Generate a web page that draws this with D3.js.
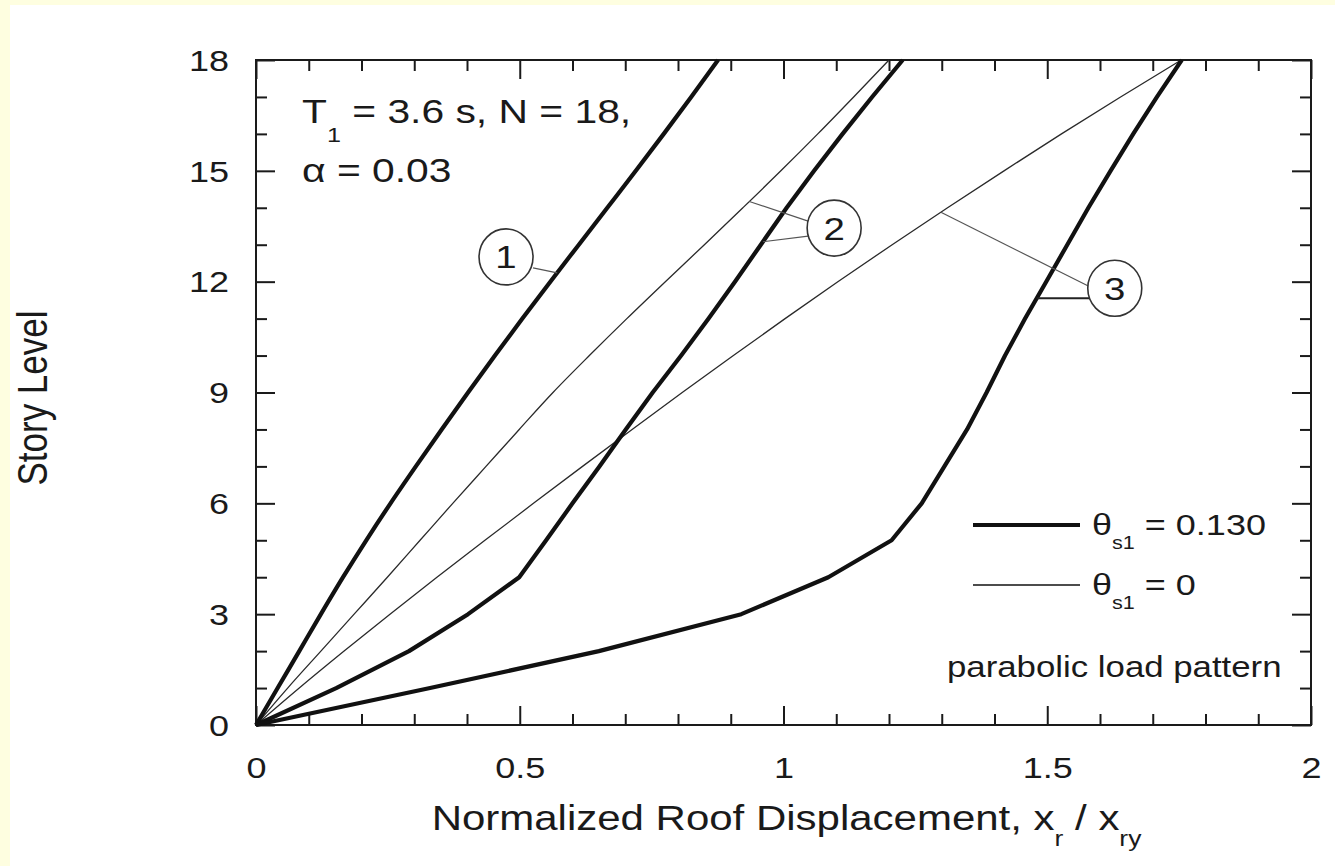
<!DOCTYPE html>
<html>
<head>
<meta charset="utf-8">
<script src="https://cdn.jsdelivr.net/npm/d3@7"></script>
<style>
  html, body { margin: 0; padding: 0; background: #fefee0; }
  svg { display: block; }
  text { font-family: "Liberation Sans", Arial, Helvetica, sans-serif; fill: #1a1a1a; }
</style>
</head>
<body>
<div id="chart"></div>
<script>
/**
 * CONSTANTS AND GLOBALS
 * */
const width = 1335,
  height = 866,
  margin = { top: 60, right: 24, bottom: 141, left: 256 };

// the original figure is stretched sideways, so text gets the same squeeze
const stretch = 1.2;

/**
 * DATA
 * */
const storyLevels = d3.range(0, 19);

// label 1, theta_s1 = 0.130
const curve1Thick = [0, 0.041, 0.082, 0.123, 0.165, 0.209, 0.255, 0.303, 0.352, 0.402,
  0.453, 0.505, 0.558, 0.612, 0.666, 0.720, 0.773, 0.825, 0.876];
// label 2
const curve2Thin = [0, 0.060, 0.123, 0.186, 0.249, 0.311, 0.373, 0.436, 0.499, 0.563,
  0.632, 0.703, 0.776, 0.850, 0.923, 0.995, 1.065, 1.133, 1.200];
const curve2Thick = [0, 0.152, 0.290, 0.402, 0.499, 0.550, 0.600, 0.651, 0.701, 0.752,
  0.806, 0.858, 0.908, 0.957, 1.006, 1.058, 1.112, 1.168, 1.226];
// label 3
const curve3Thin = [0, 0.082, 0.167, 0.254, 0.343, 0.434, 0.526, 0.619, 0.713, 0.808,
  0.905, 1.003, 1.103, 1.206, 1.311, 1.418, 1.527, 1.639, 1.754];
const curve3Thick = [0, 0.330, 0.650, 0.920, 1.085, 1.205, 1.262, 1.305, 1.348, 1.385,
  1.420, 1.458, 1.498, 1.538, 1.578, 1.620, 1.663, 1.708, 1.755];

const xMajorTicks = [0, 0.5, 1, 1.5, 2];
const xTickLabels = ["0", "0.5", "1", "1.5", "2"];
const yMajorTicks = [0, 3, 6, 9, 12, 15, 18];

// circled labels: number, centre (x, level), and where each leader touches its curve
const labelNames = ["1", "2", "3"];
const labelCentres = [[0.474, 12.67], [1.096, 13.45], [1.628, 11.82]];
const labelLeaders = [
  [{ curve: curve1Thick, level: 12.24 }],
  [{ curve: curve2Thin, level: 14.17 }, { curve: curve2Thick, level: 13.08 }],
  [{ curve: curve3Thin, level: 13.88 }, { curve: curve3Thick, level: 11.55, flat: true }]
];

/**
 * INIT
 * */
const svg = d3.select("#chart")
  .append("svg")
  .attr("width", width)
  .attr("height", height);

// pale yellow page, white sheet
svg.append("rect").attr("width", width).attr("height", height).attr("fill", "#fefee0");
svg.append("rect").attr("x", 10).attr("y", 5)
  .attr("width", width - 10).attr("height", height - 5).attr("fill", "#ffffff");

const xScale = d3.scaleLinear().domain([0, 2]).range([margin.left, width - margin.right]);
const yScale = d3.scaleLinear().domain([0, 18]).range([height - margin.bottom, margin.top]);

const plotW = xScale.range()[1] - xScale.range()[0];
const plotH = yScale.range()[0] - yScale.range()[1];

const xMinor = d3.range(0, 21).map(d => d / 10).filter(d => !xMajorTicks.includes(d));
const yMinor = storyLevels.filter(d => !yMajorTicks.includes(d));

// ---- axes (ticks point inwards on all four sides)
function tickAxis(axisFn, scale, values, size, translate) {
  const g = svg.append("g")
    .attr("transform", translate)
    .call(axisFn(scale).tickValues(values).tickSize(-size).tickFormat(""));
  g.select(".domain").remove();
  g.selectAll(".tick line").attr("stroke", "#1a1a1a").attr("stroke-width", 2);
  return g;
}

const bottomY = yScale(0), leftX = xScale(0);
tickAxis(d3.axisBottom, xScale, xMinor, 11, `translate(0,${bottomY})`);
tickAxis(d3.axisTop, xScale, xMinor, 11, `translate(0,${yScale(18)})`);
tickAxis(d3.axisTop, xScale, xMajorTicks, 19, `translate(0,${yScale(18)})`);
tickAxis(d3.axisLeft, yScale, yMinor, 11, `translate(${leftX},0)`);
tickAxis(d3.axisRight, yScale, yMinor, 11, `translate(${xScale(2)},0)`);
tickAxis(d3.axisRight, yScale, yMajorTicks, 19, `translate(${xScale(2)},0)`);

// bottom major ticks with labels
const xAxisG = svg.append("g")
  .attr("transform", `translate(0,${bottomY})`)
  .call(d3.axisBottom(xScale).tickValues(xMajorTicks).tickSize(-19)
    .tickFormat((d, i) => xTickLabels[i]));
xAxisG.select(".domain").remove();
xAxisG.selectAll(".tick line").attr("stroke", "#1a1a1a").attr("stroke-width", 2);
xAxisG.selectAll(".tick text")
  .attr("y", 0).attr("dy", 0)
  .attr("transform", `translate(0,53) scale(${stretch},1)`)
  .attr("font-size", 30)
  .attr("fill", "#1a1a1a");

// left major ticks with labels
const yAxisG = svg.append("g")
  .attr("transform", `translate(${leftX},0)`)
  .call(d3.axisLeft(yScale).tickValues(yMajorTicks).tickSize(-19));
yAxisG.select(".domain").remove();
yAxisG.selectAll(".tick line").attr("stroke", "#1a1a1a").attr("stroke-width", 2);
yAxisG.selectAll(".tick text")
  .attr("x", 0).attr("dy", "0.34em")
  .attr("transform", `translate(-27,0) scale(${stretch},1)`)
  .attr("font-size", 30)
  .attr("fill", "#1a1a1a");

// frame
svg.append("rect")
  .attr("x", leftX).attr("y", yScale(18))
  .attr("width", plotW).attr("height", plotH)
  .attr("fill", "none").attr("stroke", "#1a1a1a").attr("stroke-width", 2);

// ---- curves (smooth ones get a monotone curve, the kinked ones stay straight)
const smoothLine = d3.line()
  .x(d => xScale(d[0]))
  .y(d => yScale(d[1]))
  .curve(d3.curveMonotoneY);
const kinkLine = d3.line()
  .x(d => xScale(d[0]))
  .y(d => yScale(d[1]));

const series = [
  { values: curve2Thin, thick: false, kinked: false },
  { values: curve3Thin, thick: false, kinked: false },
  { values: curve1Thick, thick: true, kinked: false },
  { values: curve2Thick, thick: true, kinked: true },
  { values: curve3Thick, thick: true, kinked: true }
];

svg.append("g")
  .selectAll("path")
  .data(series)
  .join("path")
  .attr("d", s => (s.kinked ? kinkLine : smoothLine)(s.values.map((v, i) => [v, storyLevels[i]])))
  .attr("fill", "none")
  .attr("stroke", s => s.thick ? "#111" : "#2a2a2a")
  .attr("stroke-width", s => s.thick ? 4.2 : 1.3)
  .attr("stroke-linejoin", "round");

// ---- circled labels
function xAtLevel(curve, level) {
  const i = Math.min(Math.floor(level), storyLevels.length - 2);
  const t = level - storyLevels[i];
  return curve[i] + t * (curve[i + 1] - curve[i]);
}

const rx = 27, ry = 28;
const leaderStarts = [
  [[rx, 11]],
  [[-rx + 1, -7], [-rx + 1, 8]],
  [[-rx + 1, -2], null]
];

const labelG = svg.append("g");
labelNames.forEach((name, k) => {
  const cx = xScale(labelCentres[k][0]);
  const cy = yScale(labelCentres[k][1]);
  labelLeaders[k].forEach((ld, j) => {
    const ax = xScale(xAtLevel(ld.curve, ld.level));
    const ay = yScale(ld.level);
    const st = leaderStarts[k][j];
    const sx = ld.flat ? cx - rx + 3 : cx + st[0];
    const sy = ld.flat ? ay : cy + st[1];
    labelG.append("line")
      .attr("x1", sx).attr("y1", sy)
      .attr("x2", ax).attr("y2", ay)
      .attr("stroke", ld.flat ? "#222" : "#555")
      .attr("stroke-width", ld.flat ? 2 : 1.2);
  });
  labelG.append("ellipse")
    .attr("cx", cx).attr("cy", cy)
    .attr("rx", rx).attr("ry", ry)
    .attr("fill", "#fff")
    .attr("stroke", "#333")
    .attr("stroke-width", 1.6);
  labelG.append("text")
    .attr("transform", `translate(${cx},${cy}) scale(${stretch},1)`)
    .attr("text-anchor", "middle")
    .attr("dy", "0.36em")
    .attr("font-size", 32)
    .text(name);
});

// ---- annotation top-left
const note1 = svg.append("text")
  .attr("transform", `translate(302,123) scale(${stretch},1)`)
  .attr("font-size", 34);
note1.append("tspan").text("T");
note1.append("tspan").attr("font-size", 21).attr("dy", 19).text("1");
note1.append("tspan").attr("dy", -19).text(" = 3.6 s, N = 18,");

svg.append("text")
  .attr("transform", `translate(302,182) scale(${stretch},1)`)
  .attr("font-size", 34)
  .text("\u03b1 = 0.03");

// ---- legend
const legendRows = [
  { label: "0.130", thick: true, y: 525 },
  { label: "0", thick: false, y: 585 }
];
const legend = svg.append("g");
legendRows.forEach(r => {
  legend.append("line")
    .attr("x1", 973).attr("x2", 1080)
    .attr("y1", r.y).attr("y2", r.y)
    .attr("stroke", "#111")
    .attr("stroke-width", r.thick ? 4.2 : 1.4);
  const t = legend.append("text")
    .attr("transform", `translate(1092,${r.y + 10}) scale(${stretch},1)`)
    .attr("font-size", 30);
  t.append("tspan").text("\u03b8");
  t.append("tspan").attr("font-size", 18).attr("dy", 14).text("s1");
  t.append("tspan").attr("dy", -14).text(" = " + r.label);
});

svg.append("text")
  .attr("transform", `translate(947,677) scale(${stretch},1)`)
  .attr("font-size", 29)
  .text("parabolic load pattern");

// ---- axis titles
const xTitle = svg.append("text")
  .attr("transform", `translate(${(xScale(0) + xScale(2)) / 2 + 3},830) scale(${stretch},1)`)
  .attr("text-anchor", "middle")
  .attr("font-size", 35);
xTitle.append("tspan").text("Normalized Roof Displacement, x");
xTitle.append("tspan").attr("font-size", 22).attr("dy", 16).text("r");
xTitle.append("tspan").attr("dy", -16).text(" / x");
xTitle.append("tspan").attr("font-size", 22).attr("dy", 16).text("ry");

svg.append("text")
  .attr("transform", `translate(47,398) scale(${stretch},1) rotate(-90)`)
  .attr("text-anchor", "middle")
  .attr("font-size", 35)
  .text("Story Level");
</script>
</body>
</html>
